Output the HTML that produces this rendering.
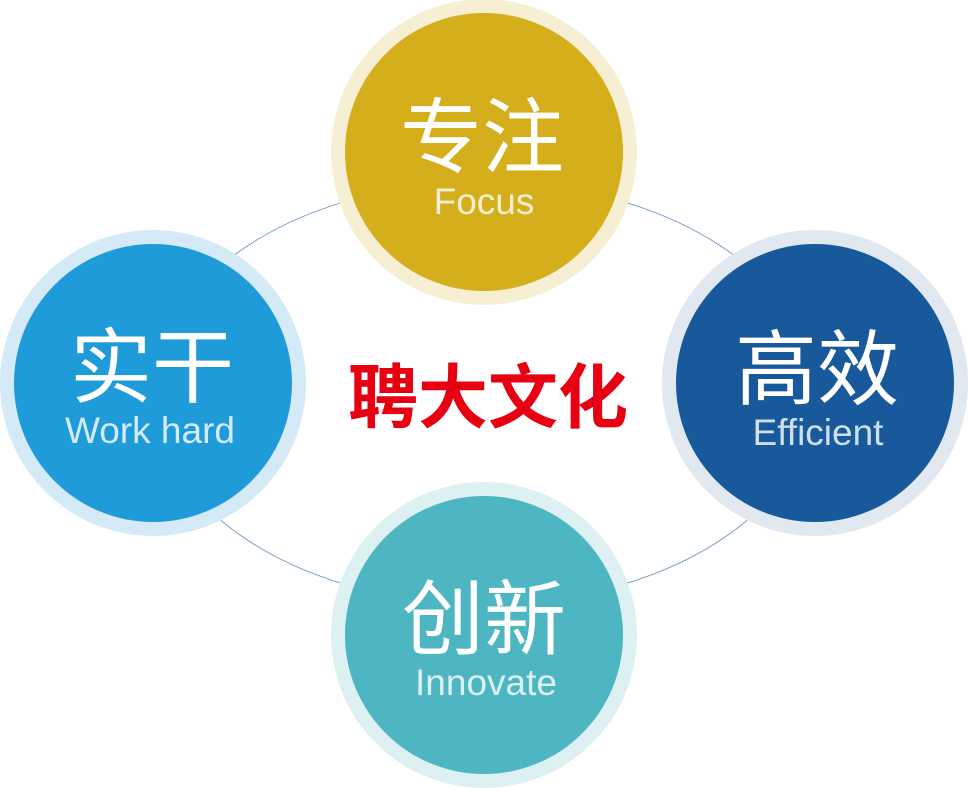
<!DOCTYPE html>
<html><head><meta charset="utf-8"><style>
body{margin:0;background:#fff;}
svg{display:block}
.cn{font-family:"Liberation Sans","Noto Sans CJK SC",sans-serif;fill:#fff;font-size:82px;text-anchor:middle}
.en{font-family:"Liberation Sans",sans-serif;fill:#fff;opacity:.8;font-size:37px;text-anchor:middle}
</style></head><body>
<svg width="969" height="788" viewBox="0 0 969 788">
<ellipse cx="484" cy="393" rx="330" ry="211" fill="none" stroke="#7f9fc4" stroke-width="1"/>
<circle cx="484" cy="152" r="153" fill="#f6efd4"/><circle cx="484" cy="152" r="139" fill="#d4ae1b"/>
<circle cx="153" cy="383" r="153" fill="#d4ebf7"/><circle cx="153" cy="383" r="139" fill="#1f9bda"/>
<circle cx="815" cy="383" r="153" fill="#e1e8f0"/><circle cx="815" cy="383" r="139" fill="#17599b"/>
<circle cx="484" cy="635" r="153" fill="#ddf0f2"/><circle cx="484" cy="635" r="139" fill="#4db6c2"/>
<text class="cn" x="482" y="166">专注</text><text class="en" x="484" y="214">Focus</text>
<text class="cn" x="152" y="396">实干</text><text class="en" x="150" y="443">Work hard</text>
<text class="cn" x="817" y="398">高效</text><text class="en" x="818" y="445">Efficient</text>
<text class="cn" x="484" y="648">创新</text><text class="en" x="486" y="695">Innovate</text>
<text x="488" y="422" text-anchor="middle" style="font-family:'Liberation Sans','Noto Sans CJK SC',sans-serif;font-weight:bold;font-size:70px;fill:#e60012">聘大文化</text>
</svg>
</body></html>
